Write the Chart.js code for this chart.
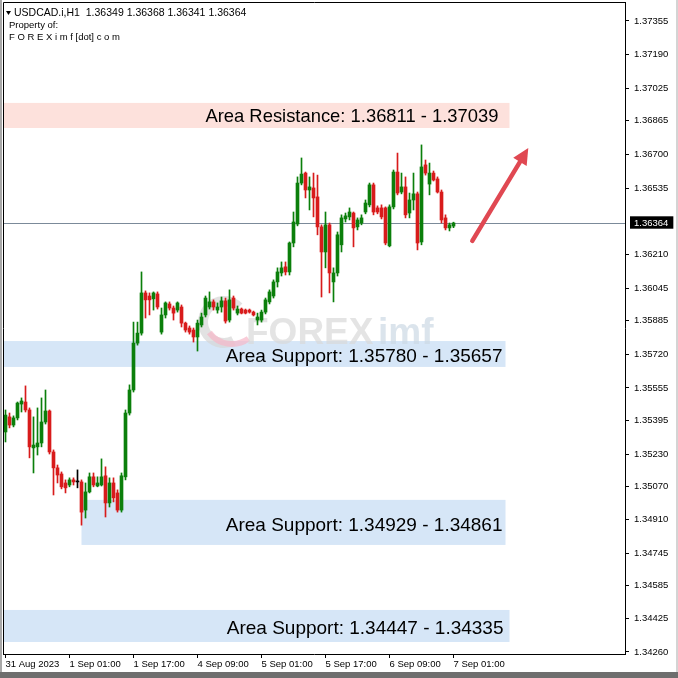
<!DOCTYPE html>
<html>
<head>
<meta charset="utf-8">
<script src="https://cdn.jsdelivr.net/npm/chart.js@4.4.0/dist/chart.umd.min.js"></script>
<style>
  html, body { margin: 0; padding: 0; background: #fff; }
  canvas { display: block; }
</style>
</head>
<body>
<canvas id="chart" width="678" height="678"></canvas>
<script>
// USDCAD.i H1 bars, 31 Aug 09:00 -> 7 Sep 01:00 (weekend skipped)
const sessions = [['31 Aug', 9, 23], ['1 Sep', 0, 23], ['4 Sep', 0, 23], ['5 Sep', 0, 23], ['6 Sep', 0, 23], ['7 Sep', 0, 1]];
const times = [];
sessions.forEach(([day, from, to]) => {
  for (let h = from; h <= to; h++) times.push(day + ' ' + String(h).padStart(2, '0') + ':00');
});

const open = [
  1.35339, 1.35413, 1.35373, 1.35408, 1.35476, 1.35486, 1.35447, 1.35261, 1.35266, 1.35285,
  1.35388, 1.35442, 1.35241, 1.35163, 1.35133, 1.35089, 1.35079, 1.35104, 1.35094, 1.35094,
  1.34956, 1.35045, 1.35119, 1.35074, 1.35079, 1.35124, 1.34991, 1.35089, 1.35040, 1.34956,
  1.35119, 1.35432, 1.35545, 1.35775, 1.35824, 1.36021, 1.36006, 1.35992, 1.36016, 1.35829,
  1.35913, 1.35967, 1.35947, 1.35937, 1.35952, 1.35873, 1.35849, 1.35839, 1.35805, 1.35864,
  1.35913, 1.35952, 1.35977, 1.35937, 1.35952, 1.35982, 1.35888, 1.35996, 1.35922, 1.35942,
  1.35937, 1.35937, 1.35927, 1.35888, 1.35888, 1.35927, 1.35977, 1.36006, 1.36075, 1.36119,
  1.36149, 1.36124, 1.36266, 1.36359, 1.36560, 1.36609, 1.36526, 1.36536, 1.36492, 1.36345,
  1.36222, 1.36355, 1.36075, 1.36119, 1.36257, 1.36384, 1.36394, 1.36413, 1.36345, 1.36364,
  1.36418, 1.36453, 1.36551, 1.36438, 1.36438, 1.36438, 1.36252, 1.36443, 1.36614, 1.36516,
  1.36541, 1.36413, 1.36477, 1.36507, 1.36271, 1.36649, 1.36555, 1.36609, 1.36580, 1.36516,
  1.36389, 1.36340, 1.36349
];
const high = [
  1.35447, 1.35432, 1.35418, 1.35486, 1.35506, 1.35565, 1.35457, 1.35413, 1.35457, 1.35506,
  1.35545, 1.35447, 1.35251, 1.35177, 1.35143, 1.35104, 1.35114, 1.35114, 1.35153, 1.35104,
  1.35089, 1.35138, 1.35138, 1.35119, 1.35207, 1.35168, 1.35114, 1.35114, 1.35055, 1.35138,
  1.35447, 1.35570, 1.35878, 1.35878, 1.36124, 1.36031, 1.36021, 1.36026, 1.36026, 1.35947,
  1.35977, 1.35977, 1.35957, 1.35977, 1.35962, 1.35878, 1.35859, 1.35849, 1.35888, 1.35922,
  1.36006, 1.36026, 1.35987, 1.35972, 1.36001, 1.35996, 1.36036, 1.36006, 1.35957, 1.35947,
  1.35942, 1.35942, 1.35932, 1.35922, 1.35937, 1.35996, 1.36036, 1.36085, 1.36144, 1.36173,
  1.36173, 1.36271, 1.36418, 1.36590, 1.36683, 1.36614, 1.36590, 1.36609, 1.36599, 1.36355,
  1.36418, 1.36364, 1.36144, 1.36320, 1.36404, 1.36413, 1.36438, 1.36418, 1.36389, 1.36404,
  1.36477, 1.36560, 1.36560, 1.36448, 1.36453, 1.36443, 1.36453, 1.36624, 1.36707, 1.36609,
  1.36590, 1.36511, 1.36609, 1.36516, 1.36747, 1.36673, 1.36658, 1.36619, 1.36590, 1.36526,
  1.36404, 1.36364, 1.36368
];
const low = [
  1.35290, 1.35359, 1.35364, 1.35398, 1.35437, 1.35437, 1.35212, 1.35138, 1.35226, 1.35266,
  1.35378, 1.35231, 1.35030, 1.35089, 1.35060, 1.35040, 1.35070, 1.35079, 1.35065, 1.34882,
  1.34917, 1.35040, 1.35070, 1.35070, 1.35074, 1.34922, 1.34971, 1.34996, 1.34946, 1.34946,
  1.35104, 1.35422, 1.35535, 1.35765, 1.35814, 1.35898, 1.35913, 1.35937, 1.35942, 1.35819,
  1.35898, 1.35937, 1.35888, 1.35927, 1.35854, 1.35829, 1.35819, 1.35780, 1.35736, 1.35854,
  1.35903, 1.35942, 1.35937, 1.35922, 1.35927, 1.35873, 1.35878, 1.35937, 1.35913, 1.35918,
  1.35918, 1.35922, 1.35908, 1.35864, 1.35878, 1.35918, 1.35967, 1.35996, 1.36050, 1.36104,
  1.36109, 1.36109, 1.36247, 1.36350, 1.36551, 1.36487, 1.36428, 1.36394, 1.36306, 1.36001,
  1.36144, 1.36021, 1.35977, 1.36104, 1.36222, 1.36369, 1.36379, 1.36247, 1.36330, 1.36355,
  1.36409, 1.36443, 1.36404, 1.36409, 1.36384, 1.36257, 1.36247, 1.36433, 1.36502, 1.36507,
  1.36389, 1.36389, 1.36428, 1.36232, 1.36257, 1.36599, 1.36502, 1.36570, 1.36511, 1.36364,
  1.36330, 1.36325, 1.36341
];
const close = [
  1.35422, 1.35373, 1.35408, 1.35481, 1.35491, 1.35447, 1.35266, 1.35275, 1.35285, 1.35388,
  1.35442, 1.35241, 1.35163, 1.35128, 1.35070, 1.35065, 1.35104, 1.35094, 1.35094, 1.34946,
  1.35045, 1.35119, 1.35079, 1.35089, 1.35119, 1.34991, 1.35089, 1.35016, 1.34956, 1.35124,
  1.35432, 1.35545, 1.35775, 1.35824, 1.36021, 1.35987, 1.35987, 1.36021, 1.35952, 1.35913,
  1.35972, 1.35947, 1.35922, 1.35972, 1.35873, 1.35839, 1.35829, 1.35805, 1.35873, 1.35903,
  1.35996, 1.35977, 1.35952, 1.35952, 1.35982, 1.35883, 1.35987, 1.35947, 1.35942, 1.35922,
  1.35922, 1.35927, 1.35913, 1.35903, 1.35927, 1.35987, 1.36026, 1.36075, 1.36124, 1.36144,
  1.36124, 1.36266, 1.36369, 1.36560, 1.36604, 1.36526, 1.36541, 1.36487, 1.36345, 1.36222,
  1.36355, 1.36119, 1.36119, 1.36306, 1.36389, 1.36399, 1.36418, 1.36340, 1.36379, 1.36389,
  1.36462, 1.36551, 1.36418, 1.36418, 1.36394, 1.36266, 1.36443, 1.36614, 1.36511, 1.36541,
  1.36404, 1.36477, 1.36507, 1.36266, 1.36639, 1.36609, 1.36609, 1.36575, 1.36516, 1.36379,
  1.36340, 1.36355, 1.36364
];

// price scale labels as printed by the terminal
const yTicks = [1.37355, 1.37190, 1.37025, 1.36865, 1.36700, 1.36535, 1.36210, 1.36045, 1.35885,
  1.35720, 1.35555, 1.35395, 1.35230, 1.35070, 1.34910, 1.34745, 1.34585, 1.34425, 1.34260];
const xTicks = ['31 Aug 2023', '1 Sep 01:00', '1 Sep 17:00', '4 Sep 09:00', '5 Sep 01:00', '5 Sep 17:00', '6 Sep 09:00', '7 Sep 01:00'];

// drawn zones (price top/bottom, bar index start/end; null start = left edge)
const zoneTop = [1.36953, 1.35785, 1.35006, 1.34466];
const zoneBottom = [1.36830, 1.35658, 1.34785, 1.34309];
const zoneStart = [null, null, 19, null];
const zoneEnd = [126, 125, 125, 126];
const zoneText = ['Area Resistance: 1.36811 - 1.37039', 'Area Support: 1.35780 - 1.35657',
  'Area Support: 1.34929 - 1.34861', 'Area Support: 1.34447 - 1.34335'];
const zoneFill = ['#fde1dc', '#d6e6f7', '#d6e6f7', '#d6e6f7'];

// arrow: [bar index, price]
const arrowFrom = [116.7, 1.36276];
const arrowTo = [130.7, 1.36732];

const lastPrice = close[close.length - 1];
const symbolLine = 'USDCAD.i,H1  ' + [open, high, low, close].map(a => a[a.length - 1].toFixed(5)).join(' ');

const upColor = '#0b7f0b';
const downColor = '#d81b1b';
const colors = open.map((o, i) => close[i] > o ? upColor : close[i] < o ? downColor : '#000000');

const FONT = '"Liberation Sans", Arial, sans-serif';

const framePlugin = {
  id: 'frame',
  beforeDraw(chart) {
    const c = chart.ctx;
    c.save();
    c.fillStyle = '#ffffff';
    c.fillRect(0, 0, chart.width, chart.height);
    // window frame
    c.fillStyle = '#a8a8a8';
    c.fillRect(0, 0, 2, chart.height);
    c.fillStyle = '#6e6e6e';
    c.fillRect(0, 672, chart.width, 6);
    c.fillStyle = '#d4d4d4';
    c.fillRect(676, 0, 2, 672);
    c.restore();
  }
};

const zonesPlugin = {
  id: 'zones',
  beforeDatasetsDraw(chart) {
    const { ctx: c, chartArea: a, scales: { x, y } } = chart;
    c.save();
    c.beginPath();
    c.rect(a.left, a.top, a.right - a.left, a.bottom - a.top);
    c.clip();
    zoneTop.forEach((top, i) => {
      const x0 = zoneStart[i] === null ? a.left + 1 : x.getPixelForValue(zoneStart[i]);
      const x1 = x.getPixelForValue(zoneEnd[i]);
      const y0 = y.getPixelForValue(top);
      const y1 = y.getPixelForValue(zoneBottom[i]);
      c.fillStyle = zoneFill[i];
      c.fillRect(x0, y0, x1 - x0, y1 - y0);
    });
    // watermark logo
    c.globalAlpha = 0.7;
    c.lineWidth = 10;
    c.strokeStyle = '#d6d6d6';
    c.beginPath();
    c.arc(224, 322, 21, Math.PI * 0.35, Math.PI * 1.75);
    c.stroke();
    c.strokeStyle = '#f6b6c8';
    c.lineWidth = 6;
    c.beginPath();
    c.arc(232, 316, 28, Math.PI * 0.3, Math.PI * 0.8);
    c.stroke();
    c.font = 'bold 37px ' + FONT;
    c.textBaseline = 'alphabetic';
    c.fillStyle = '#d9d9d9';
    c.fillText('FOREX', 246, 344);
    c.fillStyle = '#ccd8e4';
    c.fillText('imf', 378, 344);
    c.globalAlpha = 1;
    // current price line
    const yp = Math.round(y.getPixelForValue(lastPrice)) + 0.5;
    c.strokeStyle = '#7b8a99';
    c.lineWidth = 1;
    c.beginPath();
    c.moveTo(a.left, yp);
    c.lineTo(a.right, yp);
    c.stroke();
    c.restore();
  },
  afterDatasetsDraw(chart) {
    const { ctx: c, chartArea: a, scales: { x, y } } = chart;
    c.save();
    // zone captions
    c.fillStyle = '#000';
    c.textAlign = 'right';
    c.textBaseline = 'middle';
    const pads = [11, 3, 3, 6];
    zoneText.forEach((t, i) => {
      c.font = (i === 0 ? '18.4px ' : '19px ') + FONT;
      const x1 = x.getPixelForValue(zoneEnd[i]);
      const ym = (y.getPixelForValue(zoneTop[i]) + y.getPixelForValue(zoneBottom[i])) / 2;
      c.fillText(t, x1 - pads[i], ym + (i === 0 ? 1 : 3));
    });
    // arrow
    const ax0 = x.getPixelForValue(arrowFrom[0]), ay0 = y.getPixelForValue(arrowFrom[1]);
    const ax1 = x.getPixelForValue(arrowTo[0]), ay1 = y.getPixelForValue(arrowTo[1]);
    const ang = Math.atan2(ay1 - ay0, ax1 - ax0);
    const head = 18;
    c.strokeStyle = '#e04852';
    c.fillStyle = '#e04852';
    c.lineWidth = 4.5;
    c.lineCap = 'round';
    c.beginPath();
    c.moveTo(ax0, ay0);
    c.lineTo(ax1 - Math.cos(ang) * head * 0.8, ay1 - Math.sin(ang) * head * 0.8);
    c.stroke();
    c.beginPath();
    c.moveTo(ax1, ay1);
    c.lineTo(ax1 - head * Math.cos(ang - 0.45), ay1 - head * Math.sin(ang - 0.45));
    c.lineTo(ax1 - head * Math.cos(ang + 0.45), ay1 - head * Math.sin(ang + 0.45));
    c.closePath();
    c.fill();
    // plot frame left/top
    c.strokeStyle = '#000';
    c.lineWidth = 1;
    c.beginPath();
    c.moveTo(a.left + 0.5, a.bottom);
    c.lineTo(a.left + 0.5, a.top + 0.5);
    c.lineTo(a.right, a.top + 0.5);
    c.stroke();
    // header
    c.textAlign = 'left';
    c.textBaseline = 'middle';
    c.fillStyle = '#000';
    c.beginPath();
    c.moveTo(6, 11);
    c.lineTo(11, 11);
    c.lineTo(8.5, 15);
    c.closePath();
    c.fill();
    c.font = '10.5px ' + FONT;
    c.fillText(symbolLine, 14, 13);
    c.font = '9.5px ' + FONT;
    c.fillText('Property of:', 9, 25);
    c.fillText('F O R E X i m f [dot] c o m', 9, 37);
    c.restore();
  }
};

new Chart(document.getElementById('chart'), {
  type: 'bar',
  data: {
    datasets: [
      {
        label: 'wick',
        data: times.map((t, i) => ({ x: i, y: [low[i], high[i]] })),
        backgroundColor: colors,
        borderWidth: 0,
        barThickness: 1,
        grouped: false,
        order: 2
      },
      {
        label: 'body',
        data: times.map((t, i) => ({ x: i, y: [open[i], close[i]] })),
        backgroundColor: colors,
        borderWidth: 0,
        barThickness: 3,
        minBarLength: 1,
        grouped: false,
        order: 1
      }
    ]
  },
  options: {
    responsive: false,
    animation: false,
    layout: { padding: { left: 3, top: 2, right: 0, bottom: 0 } },
    plugins: { legend: { display: false }, tooltip: { enabled: false } },
    scales: {
      x: {
        type: 'linear',
        min: -0.625,
        max: 154.875,
        offset: false,
        grid: { drawOnChartArea: false, drawTicks: true, tickLength: 4, color: '#000', offset: false },
        border: { color: '#000' },
        afterBuildTicks(scale) {
          scale.ticks = xTicks.map((l, i) => ({ value: i === 0 ? 0 : times.indexOf(l) }));
        },
        afterFit(scale) {
          scale.height = 24;
          scale.paddingLeft = 0;
          scale.paddingRight = 0;
        },
        ticks: {
          autoSkip: false,
          maxRotation: 0,
          minRotation: 0,
          align: 'start',
          padding: 1,
          color: '#000',
          font: { family: FONT, size: 9.5 },
          callback: v => v === 0 ? xTicks[0] : times[v]
        }
      },
      y: {
        type: 'linear',
        position: 'right',
        min: 1.34250,
        max: 1.37448,
        grid: {
          drawOnChartArea: false,
          drawTicks: true,
          tickLength: 4,
          color: c => c.tick && c.tick.value === lastPrice ? 'rgba(0,0,0,0)' : '#000'
        },
        border: { color: '#000' },
        afterBuildTicks(scale) {
          scale.ticks = yTicks.concat([lastPrice]).sort((p, q) => p - q).map(v => ({ value: v }));
        },
        afterFit(scale) {
          scale.width = 53;
          scale.paddingTop = 0;
          scale.paddingBottom = 0;
        },
        ticks: {
          autoSkip: false,
          padding: 5,
          font: { family: FONT, size: 9.5 },
          color: c => c.tick && c.tick.value === lastPrice ? '#fff' : '#000',
          showLabelBackdrop: true,
          backdropColor: c => c.tick && c.tick.value === lastPrice ? '#000' : 'rgba(0,0,0,0)',
          backdropPadding: { top: 1, bottom: 0, left: 4, right: 5 },
          callback: v => v.toFixed(5)
        }
      }
    }
  },
  plugins: [framePlugin, zonesPlugin]
});
</script>
</body>
</html>
